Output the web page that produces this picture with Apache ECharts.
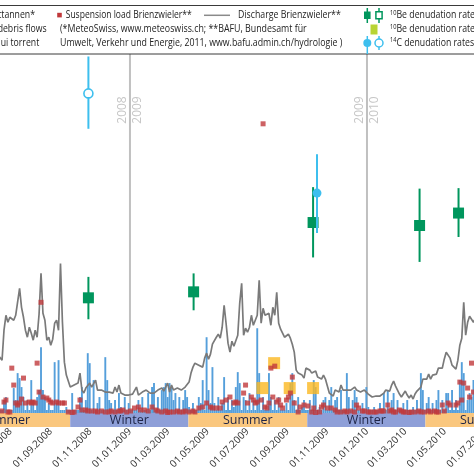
<!DOCTYPE html>
<html><head><meta charset="utf-8">
<script src="https://cdn.jsdelivr.net/npm/echarts@6/dist/echarts.min.js"></script>
<style>html,body{margin:0;padding:0;background:#fff}#c{width:474px;height:474px}</style>
</head><body><div id="c"></div>
<script>
// ---------------- DATA ----------------
// 3-day samples starting 12.06.2008
const sampleStart = '2008-06-12';
const sampleStepDays = 3;
// Discharge Brienzwieler (m3/s)
const dischargeM3s = [58,
60,53,83,98,91,96,98,93,98,97, 125,106,96,83,76,86,80,73,83,76, 99,140,100,93,73,76,68,74,90,93,
83,150,91,51,38,38,26,25,28,26, 30,40,23,20,25,24,30,26,25,33, 23,21,23,23,21,20,21,23,20,26,
21,28,20,19,18,18,18,18,19,20, 26,18,20,21,20,23,25,20,18,20, 21,23,24,25,22,23,30,21,28,23,
21,25,25,23,25,26,25,31,40,46, 50,49,48,47,46,55,60,54,59,69, 71,76,79,75,86,108,90,70,61,72,
67,68,78,110,130,78,85,81,86,98, 88,86,98,133,90,105,98,98,100,88, 106,98,121,90,84,86,76,75,79,75,
69,61,43,40,39,38,35,45,43,43, 40,42,42,36,38,34,38,34,27,20, 21,17,23,21,21,28,23,22,23,23,
23,21,26,23,22,21,22,23,21,19, 17,16,15,17,18,17,17,20,23,25, 22,28,32,27,23,19,16,19,22,18,
15,18,14,19,22,20,26,34,34,34, 39,34,38,40,39,45,47,45,54,61, 60,55,48,50,44,53,68,75,111,78,
91,97,95,91,95];
// Precipitation Guttannen (mm)
const precipitationMm = [1.5,
1.5,1.5,6.5,8,1.5,1.5,1.5,12.5,6.5,20, 17.5,13,8,1.5,6.5,1.5,16.5,6.5,1.5,8, 11.5,33,11.5,8,1.5,5,1.5,1.5,25.5,5,
26.5,1.5,1.5,1.5,3,1.5,1.5,10,1.5,1.5, 1.5,8,13,1.5,6.5,30,25,1.5,16.5,1.5, 5,8,1.5,1.5,28,16.5,6.5,5,1.5,6.5,
1.5,10,3,1.5,8,1.5,5,1.5,1.5,1.5, 1.5,6.5,1.5,8,1.5,1.5,10,1.5,13,15, 1.5,8,1.5,11.5,13,15,8,15,13,6.5,
10,1.5,8,1.5,6.5,11.5,8,3,1.5,5, 1.5,1.5,8,5,16.5,1.5,38,11.5,5,23, 5,1.5,8,1.5,5,18,1.5,8,1.5,6.5,
3,13,20.5,15,1.5,8,6.5,1.5,10,1.5, 6.5,1.5,42.5,20,1.5,8,1.5,1.5,20,8, 1.5,6.5,1.5,8,1.5,1.5,1.5,5,1.5,15,
20,6.5,1.5,8,1.5,3,6.5,1.5,1.5,6.5, 1.5,16.5,13,1.5,3,1.5,6.5,8,1.5,6.5, 13,1.5,6.5,8,1.5,11.5,1.5,1.5,20,8,
1.5,6.5,11.5,8,1.5,1.5,5,1.5,13,3, 1.5,1.5,3,1.5,1.5,5,1.5,10,1.5,11.5, 1.5,6.5,10,1.5,6.5,1.5,1.5,5,1.5,6.5,
1.5,1.5,3,1.5,6.5,1.5,20,11.5,1.5,5, 8,1.5,5,1.5,6.5,11.5,1.5,6.5,1.5,10, 10,1.5,11.5,1.5,6.5,1.5,16.5,25.5,20,1.5,
6.5,10,8,16.5,1.5];
// Suspension load Brienzwieler (t/d), null = no sample
const suspensionLoad = [null,
null,20,110,130,10,10,450,280,100,80, 100,140,350,100,null,110,100,110,100,500, 210,1110,160,null,150,130,110,100,null,110,
100,null,100,100,null,10,null,5,10,null, 60,130,30,null,30,20,null,20,null,20, 10,null,20,null,10,null,10,20,null,10,
null,20,20,30,null,10,null,20,null,50, null,60,30,null,30,null,20,null,60,null, 30,20,null,10,null,20,5,10,null,10,
null,20,10,null,10,20,null,10,null,20, 10,null,50,null,60,null,100,null,60,50, null,50,null,50,110,null,130,null,160,null,
100,110,100,null,null,200,280,100,null,160, 130,100,110,null,130,2900,60,50,100,450, 160,470,110,130,80,50,null,130,160,200,
360,100,null,10,60,null,80,null,70,null, 10,50,5,null,10,60,80,null,50,null, 50,null,30,10,null,10,null,20,10,null,
20,null,10,80,50,null,20,20,null,10, 10,null,10,10,null,20,20,20,null,80, 20,30,10,10,null,30,20,10,10,null,
5,10,null,10,null,20,10,null,10,null, 20,10,null,20,10,10,null,80,20,null, 100,80,null,null,80,100,310,130,300,null,
250,160,500,210,null];
// Debris flows Spreitlaui torrent
const debrisFlowDates = ['2009-07-24','2009-08-11','2009-09-04','2009-10-10'];
const debrisFlowCount = [1, 2, 1, 1];
// 10Be denudation rates (mm/yr)
const be10Dates = ['2008-10-29','2009-04-09','2009-10-10','2010-03-23','2010-05-22'];
const be10Rate = [2.31, 2.43, 3.82, 3.76, 4.01];
const be10Low  = [1.88, 2.06, 3.12, 3.03, 3.53];
const be10High = [2.73, 2.80, 4.53, 4.50, 4.51];
// 14C denudation rates (mm/yr)
const c14Dates = ['2008-10-29','2009-10-16'];
const c14Rate = [6.41, 4.41];
const c14Low  = [5.70, 3.61];
const c14High = [7.15, 5.19];
const c14Open = [true, false];
// Seasons
const seasonStart = ['2008-03-15','2008-10-01','2009-04-01','2009-10-01','2010-04-01'];
const seasonEnd   = ['2008-10-01','2009-04-01','2009-10-01','2010-04-01','2010-10-01'];
const seasonName  = ['Summer','Winter','Summer','Winter','Summer'];
// Year boundaries
const yearBreaks = ['2009-01-01','2010-01-01'];
const yearBefore = ['2008','2009'];
const yearAfter  = ['2009','2010'];
// Tick labels
const tickLabels = ['01.05.2008','01.07.2008','01.09.2008','01.11.2008','01.01.2009','01.03.2009','01.05.2009',
  '01.07.2009','01.09.2009','01.11.2009','01.01.2010','01.03.2010','01.05.2010','01.07.2010','01.09.2010'];

// ---------------- HELPERS ----------------
function ts(s){ const p = s.split('-').map(Number); return new Date(p[0], p[1]-1, p[2]).getTime(); }
function tsDot(s){ const p = s.split('.').map(Number); return new Date(p[2], p[1]-1, p[0]).getTime(); }
function pad(n){ return (n<10?'0':'')+n; }
function fmt(v){ const d = new Date(Math.round(v)); return pad(d.getDate())+'.'+pad(d.getMonth()+1)+'.'+d.getFullYear(); }

const sp = sampleStart.split('-').map(Number);
const sampleTimes = dischargeM3s.map((_, i) => new Date(sp[0], sp[1]-1, sp[2] + sampleStepDays*i).getTime());
const tickTs = tickLabels.map(tsDot);

const FONT = '"Open Sans", "Noto Sans", sans-serif';

const chart = echarts.init(document.getElementById('c'), null, {renderer:'canvas', width:474, height:474});

// legend text scaling (measure)
const cv = document.createElement('canvas').getContext('2d');
const LFONT = '10px "Open Sans"';
function meas(t){ cv.font = LFONT; return cv.measureText(t).width; }
const legendMid = [
  {t:'Suspension load Brienzwieler**', x0:65.7, x1:191.7, y:15.3},
  {t:'Discharge Brienzwieler**', x0:238, x1:340.7, y:15.3},
  {t:'(*MeteoSwiss, www.meteoswiss.ch; **BAFU, Bundesamt für', x0:60, x1:306.7, y:29.3},
  {t:'Umwelt, Verkehr und Energie, 2011, www.bafu.admin.ch/hydrologie )', x0:60, x1:342.3, y:43}
];
let scSum = 0;
legendMid.forEach(o => { o.s = (o.x1 - o.x0) / meas(o.t); scSum += o.s; });
const avgS = scSum / legendMid.length;
const legendLeft = [
  {t:'Precipitation Guttannen*', x1:35, y:15.3},
  {t:'Dates of debris flows', x1:46.7, y:29.3},
  {t:'Spreitlaui torrent', x1:39.3, y:43}
];
const legendRight = [
  {t:'{s|10}{n|Be denudation rates river sediment}', y:15.3},
  {t:'{s|10}{n|Be denudation rates debris flows}', y:29.3},
  {t:'{s|14}{n|C denudation rates}', y:43}
];
const GREEN = '#00965d', CYAN = '#3dbfee', LIME = '#b8d434';
const graphics = [
  {type:'rect', z:100, shape:{x:-5, y:5.5, width:484, height:48.5}, style:{fill:'#fff', stroke:'#3a3a3a', lineWidth:1}},
  {type:'rect', z:101, shape:{x:57.2, y:12.8, width:4.6, height:4.6}, style:{fill:'#c0393b'}},
  {type:'line', z:101, shape:{x1:204, y1:15.3, x2:230, y2:15.3}, style:{stroke:'#8a8a8a', lineWidth:1.5}},
  {type:'line', z:101, shape:{x1:367.3, y1:8, x2:367.3, y2:23}, style:{stroke:GREEN, lineWidth:1.5}},
  {type:'rect', z:102, shape:{x:364, y:11.5, width:6.6, height:7.5}, style:{fill:GREEN}},
  {type:'line', z:101, shape:{x1:379, y1:8, x2:379, y2:23}, style:{stroke:GREEN, lineWidth:1.5}},
  {type:'rect', z:102, shape:{x:375.9, y:11.7, width:6.2, height:7}, style:{fill:'#fff', stroke:GREEN, lineWidth:1.5}},
  {type:'rect', z:102, shape:{x:370.5, y:24.5, width:7, height:10}, style:{fill:LIME}},
  {type:'line', z:101, shape:{x1:367.3, y1:36, x2:367.3, y2:54}, style:{stroke:CYAN, lineWidth:1.5}},
  {type:'circle', z:102, shape:{cx:367.3, cy:43, r:4}, style:{fill:CYAN}},
  {type:'line', z:101, shape:{x1:379, y1:36, x2:379, y2:50}, style:{stroke:CYAN, lineWidth:1.5}},
  {type:'circle', z:102, shape:{cx:379, cy:43, r:4}, style:{fill:'#fff', stroke:CYAN, lineWidth:1.5}}
];
legendMid.forEach(o => graphics.push({type:'text', z:103, x:o.x0, y:o.y, scaleX:o.s,
  style:{text:o.t, font:LFONT, fill:'#222', align:'left', verticalAlign:'middle'}}));
legendLeft.forEach(o => graphics.push({type:'text', z:103, x:o.x1, y:o.y, scaleX:avgS,
  style:{text:o.t, font:LFONT, fill:'#222', align:'right', verticalAlign:'middle'}}));
legendRight.forEach(o => graphics.push({type:'text', z:103, x:390, y:o.y, scaleX:avgS,
  style:{text:o.t, font:LFONT, fill:'#222', align:'left', verticalAlign:'middle',
    rich:{s:{fontSize:6.5, fontFamily:'Open Sans', fill:'#222', verticalAlign:'top', lineHeight:12},
          n:{fontSize:10, fontFamily:'Open Sans', fill:'#222', lineHeight:12}}}}));

const option = {
  animation:false,
  backgroundColor:'#fff',
  grid:{left:-48.6, right:-70.25, top:54, bottom:61, containLabel:false, outerBoundsMode:'none'},
  xAxis:{type:'value', min:ts('2008-04-01'), max:ts('2010-10-01'), offset:14, scale:true,
    axisLine:{show:false}, splitLine:{show:false},
    axisTick:{show:true, customValues:tickTs, length:5, lineStyle:{color:'#444', width:1}},
    axisLabel:{customValues:tickTs, rotate:45, margin:3, fontSize:10, color:'#333', fontFamily:FONT, hideOverlap:false, formatter:fmt}},
  yAxis:[
    {type:'value', min:0, max:360, show:false},
    {type:'value', min:0, max:180, show:false},
    {type:'value', min:0, max:3600, show:false},
    {type:'value', min:0, max:7.2, show:false},
    {type:'value', min:0, max:14.4, show:false}
  ],
  graphic: graphics,
  series:[
    {type:'custom', name:'years', z:0, clip:false, yAxisIndex:0,
      data: yearBreaks.map(d => [ts(d), 0]),
      renderItem:(params, api) => {
        const x = api.coord([api.value(0), 0])[0];
        const cs = params.coordSys;
        const i = params.dataIndex;
        return {type:'group', children:[
          {type:'line', shape:{x1:x, y1:cs.y, x2:x, y2:cs.y+cs.height}, style:{stroke:'#c0c0c0', lineWidth:2}},
          {type:'text', x:x-7.5, y:110, rotation:Math.PI/2, style:{text:yearBefore[i], font:'12px '+FONT, fill:'#c6c6c6', align:'center', verticalAlign:'middle'}},
          {type:'text', x:x+7.5, y:110, rotation:Math.PI/2, style:{text:yearAfter[i], font:'12px '+FONT, fill:'#c6c6c6', align:'center', verticalAlign:'middle'}}
        ]};
      }},
    {type:'custom', name:'seasons', z:1, clip:false, yAxisIndex:0,
      data: seasonStart.map((s,i) => [ts(s), ts(seasonEnd[i]), 0]),
      encode:{x:[0,1], y:2},
      renderItem:(params, api) => {
        const x1 = api.coord([api.value(0), 0])[0];
        const x2 = api.coord([api.value(1), 0])[0];
        const cs = params.coordSys;
        const y = cs.y + cs.height;
        const name = seasonName[params.dataIndex];
        return {type:'group', children:[
          {type:'rect', shape:{x:x1, y:y, width:x2-x1, height:14}, style:{fill: name==='Summer' ? '#fac77e' : '#8e9fd8'}},
          {type:'text', x:(x1+x2)/2, y:y+7.5, style:{text:name, font:'12.5px '+FONT, fill:'#1e2446', align:'center', verticalAlign:'middle'}}
        ]};
      }},
    {type:'bar', name:'Precipitation', yAxisIndex:1, z:2, barWidth:1.9, itemStyle:{color:'#559fdb'},
      data: sampleTimes.map((t,i) => [t, precipitationMm[i]])},
    {type:'scatter', name:'Debris flows', yAxisIndex:4, z:3, symbol:'rect', symbolSize:12, itemStyle:{color:'#fbb820'},
      data: debrisFlowDates.map((d,i) => [ts(d), debrisFlowCount[i]])},
    {type:'line', name:'Discharge', yAxisIndex:0, z:4, showSymbol:false, symbol:'none',
      lineStyle:{color:'#7a7a7a', width:1.7}, data: sampleTimes.map((t,i) => [t, dischargeM3s[i]])},
    {type:'scatter', name:'Suspension load', yAxisIndex:2, z:5, symbol:'rect', symbolSize:5, itemStyle:{color:'#c1393c'},
      data: sampleTimes.map((t,i) => [t, suspensionLoad[i]]).filter(p => p[1] !== null)},
    {type:'custom', name:'10Be', yAxisIndex:3, z:6, clip:false,
      data: be10Dates.map((d,i) => [ts(d), be10Rate[i], be10Low[i], be10High[i]]),
      encode:{x:0, y:[1,2,3]},
      renderItem:(params, api) => {
        const t = api.value(0);
        const p = api.coord([t, api.value(1)]), lo = api.coord([t, api.value(2)]), hi = api.coord([t, api.value(3)]);
        return {type:'group', children:[
          {type:'line', shape:{x1:p[0], y1:lo[1], x2:p[0], y2:hi[1]}, style:{stroke:GREEN, lineWidth:2}},
          {type:'rect', shape:{x:p[0]-5.5, y:p[1]-5.5, width:11, height:11}, style:{fill:GREEN}}
        ]};
      }},
    {type:'custom', name:'14C', yAxisIndex:3, z:7, clip:false,
      data: c14Dates.map((d,i) => [ts(d), c14Rate[i], c14Low[i], c14High[i]]),
      encode:{x:0, y:[1,2,3]},
      renderItem:(params, api) => {
        const t = api.value(0);
        const p = api.coord([t, api.value(1)]), lo = api.coord([t, api.value(2)]), hi = api.coord([t, api.value(3)]);
        const open = c14Open[params.dataIndex];
        return {type:'group', children:[
          {type:'line', shape:{x1:p[0], y1:lo[1], x2:p[0], y2:hi[1]}, style:{stroke:CYAN, lineWidth:2}},
          {type:'circle', shape:{cx:p[0], cy:p[1], r:4.5}, style: open ? {fill:'#fff', stroke:CYAN, lineWidth:1.6} : {fill:CYAN}}
        ]};
      }}
  ]
};
chart.setOption(option);
</script>
</body></html>
